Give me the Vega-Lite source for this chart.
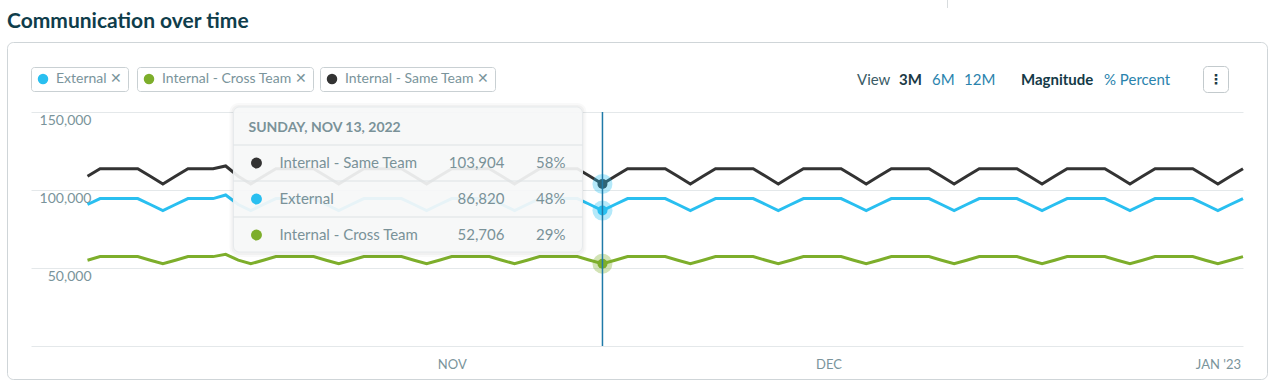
{
"$schema":"https://vega.github.io/schema/vega-lite/v6.json",
"width":1212,"height":234,
"autosize":{"type":"none"},
"padding":{"left":31,"top":112,"right":30,"bottom":39},
"background":"white",
"config":{"font":"Lato","view":{"stroke":null}},
"title":{"text":"Communication over time","anchor":"start","frame":"group","font":"Lato","fontSize":21,"fontWeight":700,"color":"#0f3d4b","dx":-24,"dy":32,"offset":0},
"datasets":{
"external":[{"date":"2022-10-03","value":90700},{"date":"2022-10-04","value":94500},{"date":"2022-10-05","value":94500},{"date":"2022-10-06","value":94500},{"date":"2022-10-07","value":94500},{"date":"2022-10-08","value":90700},{"date":"2022-10-09","value":86800},{"date":"2022-10-10","value":90700},{"date":"2022-10-11","value":94500},{"date":"2022-10-12","value":94500},{"date":"2022-10-13","value":94500},{"date":"2022-10-14","value":96800},{"date":"2022-10-15","value":90700},{"date":"2022-10-16","value":86800},{"date":"2022-10-17","value":90700},{"date":"2022-10-18","value":94500},{"date":"2022-10-19","value":94500},{"date":"2022-10-20","value":94500},{"date":"2022-10-21","value":94500},{"date":"2022-10-22","value":90700},{"date":"2022-10-23","value":86800},{"date":"2022-10-24","value":90700},{"date":"2022-10-25","value":94500},{"date":"2022-10-26","value":94500},{"date":"2022-10-27","value":94500},{"date":"2022-10-28","value":94500},{"date":"2022-10-29","value":90700},{"date":"2022-10-30","value":86800},{"date":"2022-10-31","value":90700},{"date":"2022-11-01","value":94500},{"date":"2022-11-02","value":94500},{"date":"2022-11-03","value":94500},{"date":"2022-11-04","value":94500},{"date":"2022-11-05","value":90700},{"date":"2022-11-06","value":86800},{"date":"2022-11-07","value":90700},{"date":"2022-11-08","value":94500},{"date":"2022-11-09","value":94500},{"date":"2022-11-10","value":94500},{"date":"2022-11-11","value":94500},{"date":"2022-11-12","value":90700},{"date":"2022-11-13","value":86820},{"date":"2022-11-14","value":90700},{"date":"2022-11-15","value":94500},{"date":"2022-11-16","value":94500},{"date":"2022-11-17","value":94500},{"date":"2022-11-18","value":94500},{"date":"2022-11-19","value":90700},{"date":"2022-11-20","value":86800},{"date":"2022-11-21","value":90700},{"date":"2022-11-22","value":94500},{"date":"2022-11-23","value":94500},{"date":"2022-11-24","value":94500},{"date":"2022-11-25","value":94500},{"date":"2022-11-26","value":90700},{"date":"2022-11-27","value":86800},{"date":"2022-11-28","value":90700},{"date":"2022-11-29","value":94500},{"date":"2022-11-30","value":94500},{"date":"2022-12-01","value":94500},{"date":"2022-12-02","value":94500},{"date":"2022-12-03","value":90700},{"date":"2022-12-04","value":86800},{"date":"2022-12-05","value":90700},{"date":"2022-12-06","value":94500},{"date":"2022-12-07","value":94500},{"date":"2022-12-08","value":94500},{"date":"2022-12-09","value":94500},{"date":"2022-12-10","value":90700},{"date":"2022-12-11","value":86800},{"date":"2022-12-12","value":90700},{"date":"2022-12-13","value":94500},{"date":"2022-12-14","value":94500},{"date":"2022-12-15","value":94500},{"date":"2022-12-16","value":94500},{"date":"2022-12-17","value":90700},{"date":"2022-12-18","value":86800},{"date":"2022-12-19","value":90700},{"date":"2022-12-20","value":94500},{"date":"2022-12-21","value":94500},{"date":"2022-12-22","value":94500},{"date":"2022-12-23","value":94500},{"date":"2022-12-24","value":90700},{"date":"2022-12-25","value":86800},{"date":"2022-12-26","value":90700},{"date":"2022-12-27","value":94500},{"date":"2022-12-28","value":94500},{"date":"2022-12-29","value":94500},{"date":"2022-12-30","value":94500},{"date":"2022-12-31","value":90700},{"date":"2023-01-01","value":86800},{"date":"2023-01-02","value":90700},{"date":"2023-01-03","value":94500}],
"cross":[{"date":"2022-10-03","value":55000},{"date":"2022-10-04","value":57300},{"date":"2022-10-05","value":57300},{"date":"2022-10-06","value":57300},{"date":"2022-10-07","value":57300},{"date":"2022-10-08","value":55000},{"date":"2022-10-09","value":52700},{"date":"2022-10-10","value":55000},{"date":"2022-10-11","value":57300},{"date":"2022-10-12","value":57300},{"date":"2022-10-13","value":57300},{"date":"2022-10-14","value":58800},{"date":"2022-10-15","value":55000},{"date":"2022-10-16","value":52700},{"date":"2022-10-17","value":55000},{"date":"2022-10-18","value":57300},{"date":"2022-10-19","value":57300},{"date":"2022-10-20","value":57300},{"date":"2022-10-21","value":57300},{"date":"2022-10-22","value":55000},{"date":"2022-10-23","value":52700},{"date":"2022-10-24","value":55000},{"date":"2022-10-25","value":57300},{"date":"2022-10-26","value":57300},{"date":"2022-10-27","value":57300},{"date":"2022-10-28","value":57300},{"date":"2022-10-29","value":55000},{"date":"2022-10-30","value":52700},{"date":"2022-10-31","value":55000},{"date":"2022-11-01","value":57300},{"date":"2022-11-02","value":57300},{"date":"2022-11-03","value":57300},{"date":"2022-11-04","value":57300},{"date":"2022-11-05","value":55000},{"date":"2022-11-06","value":52700},{"date":"2022-11-07","value":55000},{"date":"2022-11-08","value":57300},{"date":"2022-11-09","value":57300},{"date":"2022-11-10","value":57300},{"date":"2022-11-11","value":57300},{"date":"2022-11-12","value":55000},{"date":"2022-11-13","value":52706},{"date":"2022-11-14","value":55000},{"date":"2022-11-15","value":57300},{"date":"2022-11-16","value":57300},{"date":"2022-11-17","value":57300},{"date":"2022-11-18","value":57300},{"date":"2022-11-19","value":55000},{"date":"2022-11-20","value":52700},{"date":"2022-11-21","value":55000},{"date":"2022-11-22","value":57300},{"date":"2022-11-23","value":57300},{"date":"2022-11-24","value":57300},{"date":"2022-11-25","value":57300},{"date":"2022-11-26","value":55000},{"date":"2022-11-27","value":52700},{"date":"2022-11-28","value":55000},{"date":"2022-11-29","value":57300},{"date":"2022-11-30","value":57300},{"date":"2022-12-01","value":57300},{"date":"2022-12-02","value":57300},{"date":"2022-12-03","value":55000},{"date":"2022-12-04","value":52700},{"date":"2022-12-05","value":55000},{"date":"2022-12-06","value":57300},{"date":"2022-12-07","value":57300},{"date":"2022-12-08","value":57300},{"date":"2022-12-09","value":57300},{"date":"2022-12-10","value":55000},{"date":"2022-12-11","value":52700},{"date":"2022-12-12","value":55000},{"date":"2022-12-13","value":57300},{"date":"2022-12-14","value":57300},{"date":"2022-12-15","value":57300},{"date":"2022-12-16","value":57300},{"date":"2022-12-17","value":55000},{"date":"2022-12-18","value":52700},{"date":"2022-12-19","value":55000},{"date":"2022-12-20","value":57300},{"date":"2022-12-21","value":57300},{"date":"2022-12-22","value":57300},{"date":"2022-12-23","value":57300},{"date":"2022-12-24","value":55000},{"date":"2022-12-25","value":52700},{"date":"2022-12-26","value":55000},{"date":"2022-12-27","value":57300},{"date":"2022-12-28","value":57300},{"date":"2022-12-29","value":57300},{"date":"2022-12-30","value":57300},{"date":"2022-12-31","value":55000},{"date":"2023-01-01","value":52700},{"date":"2023-01-02","value":55000},{"date":"2023-01-03","value":57300}],
"same":[{"date":"2022-10-03","value":108800},{"date":"2022-10-04","value":113600},{"date":"2022-10-05","value":113600},{"date":"2022-10-06","value":113600},{"date":"2022-10-07","value":113600},{"date":"2022-10-08","value":108800},{"date":"2022-10-09","value":103900},{"date":"2022-10-10","value":108800},{"date":"2022-10-11","value":113600},{"date":"2022-10-12","value":113600},{"date":"2022-10-13","value":113600},{"date":"2022-10-14","value":115400},{"date":"2022-10-15","value":108800},{"date":"2022-10-16","value":103900},{"date":"2022-10-17","value":108800},{"date":"2022-10-18","value":113600},{"date":"2022-10-19","value":113600},{"date":"2022-10-20","value":113600},{"date":"2022-10-21","value":113600},{"date":"2022-10-22","value":108800},{"date":"2022-10-23","value":103900},{"date":"2022-10-24","value":108800},{"date":"2022-10-25","value":113600},{"date":"2022-10-26","value":113600},{"date":"2022-10-27","value":113600},{"date":"2022-10-28","value":113600},{"date":"2022-10-29","value":108800},{"date":"2022-10-30","value":103900},{"date":"2022-10-31","value":108800},{"date":"2022-11-01","value":113600},{"date":"2022-11-02","value":113600},{"date":"2022-11-03","value":113600},{"date":"2022-11-04","value":113600},{"date":"2022-11-05","value":108800},{"date":"2022-11-06","value":103900},{"date":"2022-11-07","value":108800},{"date":"2022-11-08","value":113600},{"date":"2022-11-09","value":113600},{"date":"2022-11-10","value":113600},{"date":"2022-11-11","value":113600},{"date":"2022-11-12","value":108800},{"date":"2022-11-13","value":103904},{"date":"2022-11-14","value":108800},{"date":"2022-11-15","value":113600},{"date":"2022-11-16","value":113600},{"date":"2022-11-17","value":113600},{"date":"2022-11-18","value":113600},{"date":"2022-11-19","value":108800},{"date":"2022-11-20","value":103900},{"date":"2022-11-21","value":108800},{"date":"2022-11-22","value":113600},{"date":"2022-11-23","value":113600},{"date":"2022-11-24","value":113600},{"date":"2022-11-25","value":113600},{"date":"2022-11-26","value":108800},{"date":"2022-11-27","value":103900},{"date":"2022-11-28","value":108800},{"date":"2022-11-29","value":113600},{"date":"2022-11-30","value":113600},{"date":"2022-12-01","value":113600},{"date":"2022-12-02","value":113600},{"date":"2022-12-03","value":108800},{"date":"2022-12-04","value":103900},{"date":"2022-12-05","value":108800},{"date":"2022-12-06","value":113600},{"date":"2022-12-07","value":113600},{"date":"2022-12-08","value":113600},{"date":"2022-12-09","value":113600},{"date":"2022-12-10","value":108800},{"date":"2022-12-11","value":103900},{"date":"2022-12-12","value":108800},{"date":"2022-12-13","value":113600},{"date":"2022-12-14","value":113600},{"date":"2022-12-15","value":113600},{"date":"2022-12-16","value":113600},{"date":"2022-12-17","value":108800},{"date":"2022-12-18","value":103900},{"date":"2022-12-19","value":108800},{"date":"2022-12-20","value":113600},{"date":"2022-12-21","value":113600},{"date":"2022-12-22","value":113600},{"date":"2022-12-23","value":113600},{"date":"2022-12-24","value":108800},{"date":"2022-12-25","value":103900},{"date":"2022-12-26","value":108800},{"date":"2022-12-27","value":113600},{"date":"2022-12-28","value":113600},{"date":"2022-12-29","value":113600},{"date":"2022-12-30","value":113600},{"date":"2022-12-31","value":108800},{"date":"2023-01-01","value":103900},{"date":"2023-01-02","value":108800},{"date":"2023-01-03","value":113600}],
"tooltip":[{"series":"Internal - Same Team","value":103904,"pct":0.58},{"series":"External","value":86820,"pct":0.48},{"series":"Internal - Cross Team","value":52706,"pct":0.29}]
},
"layer":[
{
"data":{"values":[{}]},
"layer":[
{"mark":{"type":"rect","fill":"white","fillOpacity":0,"stroke":"#cfd5d8","strokeWidth":1,"cornerRadius":6,"xOffset":-23.5,"x2Offset":24.5,"yOffset":-69.5,"y2Offset":33.5},
 "encoding":{"x":{"datum":{"year":2022,"month":"sep","date":28,"hours":12,"utc":true},"type":"temporal"},"x2":{"datum":{"year":2023,"month":"jan","date":3,"utc":true}},"y":{"datum":150000,"type":"quantitative"},"y2":{"datum":0}}},
{"mark":{"type":"rule","color":"#d8dcde","strokeWidth":1,"xOffset":-295.5,"yOffset":-112,"y2Offset":-104},
 "encoding":{"x":{"datum":{"year":2023,"month":"jan","date":3,"utc":true},"type":"temporal"},"y":{"datum":150000,"type":"quantitative"},"y2":{"datum":150000}}},
{"layer":[
 {"data":{"name":"external"},"mark":{"type":"line","color":"#29bff0","strokeWidth":3},
  "encoding":{
   "x":{"field":"date","type":"temporal","scale":{"type":"utc","domain":[{"year":2022,"month":"sep","date":28,"hours":12,"utc":true},{"year":2023,"month":"jan","date":3,"utc":true}],"range":[0,1212],"padding":0,"nice":false},
     "axis":{"values":[{"year":2022,"month":"nov","date":1,"utc":true},{"year":2022,"month":"dec","date":1,"utc":true},{"year":2023,"month":"jan","date":1,"utc":true}],"labelExpr":"utcmonth(datum.value) === 0 ? \"JAN '\" + utcFormat(datum.value, '%y') : upper(utcFormat(datum.value, '%b'))","grid":false,"domain":false,"ticks":false,"labelPadding":12,"labelFont":"Lato","labelFontSize":13,"labelColor":"#7a949b","labelFlush":false,"labelOverlap":false,"title":null}},
   "y":{"field":"value","type":"quantitative","scale":{"domain":[0,150000],"range":[234,0],"padding":0,"nice":false,"zero":false},
     "axis":{"values":[0,50000,100000,150000],"labelExpr":"datum.value === 0 ? '' : datum.label","grid":true,"gridColor":"#e4e8ea","gridWidth":1,"domain":false,"ticks":false,"tickSize":0,"labelPadding":-60,"labelAlign":"right","labelBaseline":"top","labelOffset":1,"labelFont":"Lato","labelFontSize":14,"labelColor":"#7a949b","labelOverlap":false,"title":null}}}},
 {"data":{"name":"tooltip"},"transform":[{"filter":{"field":"series","equal":"External"}}],
  "mark":{"type":"point","filled":true,"opacity":1,"size":100,"strokeWidth":0},
  "encoding":{"x":{"datum":{"year":2022,"month":"nov","date":13,"utc":true},"type":"temporal"},"y":{"field":"value","type":"quantitative"},
   "color":{"datum":"External","type":"nominal","scale":{"range":["#29bff0"]},
    "legend":{"orient":"none","legendX":0,"legendY":-45,"direction":"horizontal","title":null,"strokeColor":"#c9d0d3","fillColor":"white","cornerRadius":3,"padding":5,"symbolType":"circle","symbolSize":110,"symbolStrokeWidth":0,"symbolFillColor":"#29bff0","symbolOpacity":1,"labelFont":"Lato","labelFontSize":14,"labelColor":"#7a949b","labelOffset":6,"labelExpr":"datum.label + '\u00a0\u2715'"}}}},
 {"data":{"name":"tooltip"},"transform":[{"filter":{"field":"series","equal":"External"}}],
  "mark":{"type":"point","filled":true,"opacity":0.35,"size":400,"color":"#29bff0","strokeWidth":0},
  "encoding":{"x":{"datum":{"year":2022,"month":"nov","date":13,"utc":true},"type":"temporal"},"y":{"field":"value","type":"quantitative"}}}
]},
{"layer":[
 {"data":{"name":"cross"},"mark":{"type":"line","color":"#7dae2b","strokeWidth":3},
  "encoding":{"x":{"field":"date","type":"temporal"},"y":{"field":"value","type":"quantitative"}}},
 {"data":{"name":"tooltip"},"transform":[{"filter":{"field":"series","equal":"Internal - Cross Team"}}],
  "mark":{"type":"point","filled":true,"opacity":1,"size":100,"strokeWidth":0},
  "encoding":{"x":{"datum":{"year":2022,"month":"nov","date":13,"utc":true},"type":"temporal"},"y":{"field":"value","type":"quantitative"},
   "color":{"datum":"Internal - Cross Team","type":"nominal","scale":{"range":["#7dae2b"]},
    "legend":{"orient":"none","legendX":106,"legendY":-45,"direction":"horizontal","title":null,"strokeColor":"#c9d0d3","fillColor":"white","cornerRadius":3,"padding":5,"symbolType":"circle","symbolSize":110,"symbolStrokeWidth":0,"symbolFillColor":"#7dae2b","symbolOpacity":1,"labelFont":"Lato","labelFontSize":14,"labelColor":"#7a949b","labelOffset":6,"labelExpr":"datum.label + '\u00a0\u2715'"}}}},
 {"data":{"name":"tooltip"},"transform":[{"filter":{"field":"series","equal":"Internal - Cross Team"}}],
  "mark":{"type":"point","filled":true,"opacity":0.35,"size":400,"color":"#7dae2b","strokeWidth":0},
  "encoding":{"x":{"datum":{"year":2022,"month":"nov","date":13,"utc":true},"type":"temporal"},"y":{"field":"value","type":"quantitative"}}}
]},
{"layer":[
 {"data":{"name":"same"},"mark":{"type":"line","color":"#333333","strokeWidth":3},
  "encoding":{"x":{"field":"date","type":"temporal"},"y":{"field":"value","type":"quantitative"}}},
 {"data":{"name":"tooltip"},"transform":[{"filter":{"field":"series","equal":"Internal - Same Team"}}],
  "mark":{"type":"point","filled":true,"opacity":1,"size":100,"strokeWidth":0},
  "encoding":{"x":{"datum":{"year":2022,"month":"nov","date":13,"utc":true},"type":"temporal"},"y":{"field":"value","type":"quantitative"},
   "color":{"datum":"Internal - Same Team","type":"nominal","scale":{"range":["#333333"]},
    "legend":{"orient":"none","legendX":289,"legendY":-45,"direction":"horizontal","title":null,"strokeColor":"#c9d0d3","fillColor":"white","cornerRadius":3,"padding":5,"symbolType":"circle","symbolSize":110,"symbolStrokeWidth":0,"symbolFillColor":"#333333","symbolOpacity":1,"labelFont":"Lato","labelFontSize":14,"labelColor":"#7a949b","labelOffset":6,"labelExpr":"datum.label + '\u00a0\u2715'"}}}},
 {"data":{"name":"tooltip"},"transform":[{"filter":{"field":"series","equal":"Internal - Same Team"}}],
  "mark":{"type":"point","filled":true,"opacity":0.35,"size":400,"color":"#29bff0","strokeWidth":0},
  "encoding":{"x":{"datum":{"year":2022,"month":"nov","date":13,"utc":true},"type":"temporal"},"y":{"field":"value","type":"quantitative"}}}
]},
{"mark":{"type":"rule","color":"#1f7aa8","strokeWidth":1.5},
 "encoding":{"x":{"datum":{"year":2022,"month":"nov","date":13,"utc":true},"type":"temporal"},"y":{"datum":150000,"type":"quantitative"},"y2":{"datum":0}}},
{"mark":{"type":"rect","fill":"#000000","fillOpacity":0.025,"cornerRadius":9,"xOffset":-373,"x2Offset":-16,"yOffset":-9,"y2Offset":145},
 "encoding":{"x":{"datum":{"year":2022,"month":"nov","date":13,"utc":true},"type":"temporal"},"x2":{"datum":{"year":2022,"month":"nov","date":13,"utc":true}},"y":{"datum":150000,"type":"quantitative"},"y2":{"datum":150000}}},
{"mark":{"type":"rect","fill":"#000000","fillOpacity":0.03,"cornerRadius":7,"xOffset":-371,"x2Offset":-18,"yOffset":-7,"y2Offset":143},
 "encoding":{"x":{"datum":{"year":2022,"month":"nov","date":13,"utc":true},"type":"temporal"},"x2":{"datum":{"year":2022,"month":"nov","date":13,"utc":true}},"y":{"datum":150000,"type":"quantitative"},"y2":{"datum":150000}}},
{"mark":{"type":"rect","fill":"#f7f9f9","fillOpacity":0.92,"stroke":"#e6eaec","strokeWidth":1,"cornerRadius":6,"xOffset":-369,"x2Offset":-20,"yOffset":-5,"y2Offset":140},
 "encoding":{"x":{"datum":{"year":2022,"month":"nov","date":13,"utc":true},"type":"temporal"},"x2":{"datum":{"year":2022,"month":"nov","date":13,"utc":true}},"y":{"datum":150000,"type":"quantitative"},"y2":{"datum":150000}}},
{"mark":{"type":"text","text":"SUNDAY, NOV 13, 2022","align":"left","baseline":"middle","dx":-354,"dy":16,"font":"Lato","fontSize":14,"fontWeight":"bold","color":"#7a9298"},
 "encoding":{"x":{"datum":{"year":2022,"month":"nov","date":13,"utc":true},"type":"temporal"},"y":{"datum":150000,"type":"quantitative"}}},
{"mark":{"type":"text","text":"View","align":"left","baseline":"middle","dx":-386,"dy":-32,"font":"Lato","fontSize":15,"color":"#3b5c66"},
 "encoding":{"x":{"datum":{"year":2023,"month":"jan","date":3,"utc":true},"type":"temporal"},"y":{"datum":150000,"type":"quantitative"}}},
{"mark":{"type":"text","text":"3M","align":"left","baseline":"middle","dx":-344,"dy":-32,"font":"Lato","fontSize":15,"fontWeight":"bold","color":"#1b3a45"},
 "encoding":{"x":{"datum":{"year":2023,"month":"jan","date":3,"utc":true},"type":"temporal"},"y":{"datum":150000,"type":"quantitative"}}},
{"mark":{"type":"text","text":"6M","align":"left","baseline":"middle","dx":-311,"dy":-32,"font":"Lato","fontSize":15,"color":"#2a83ad"},
 "encoding":{"x":{"datum":{"year":2023,"month":"jan","date":3,"utc":true},"type":"temporal"},"y":{"datum":150000,"type":"quantitative"}}},
{"mark":{"type":"text","text":"12M","align":"left","baseline":"middle","dx":-279,"dy":-32,"font":"Lato","fontSize":15,"color":"#2a83ad"},
 "encoding":{"x":{"datum":{"year":2023,"month":"jan","date":3,"utc":true},"type":"temporal"},"y":{"datum":150000,"type":"quantitative"}}},
{"mark":{"type":"text","text":"Magnitude","align":"left","baseline":"middle","dx":-222,"dy":-32,"font":"Lato","fontSize":15,"fontWeight":"bold","color":"#143a47"},
 "encoding":{"x":{"datum":{"year":2023,"month":"jan","date":3,"utc":true},"type":"temporal"},"y":{"datum":150000,"type":"quantitative"}}},
{"mark":{"type":"text","text":"% Percent","align":"left","baseline":"middle","dx":-139,"dy":-32,"font":"Lato","fontSize":15,"color":"#2a83ad"},
 "encoding":{"x":{"datum":{"year":2023,"month":"jan","date":3,"utc":true},"type":"temporal"},"y":{"datum":150000,"type":"quantitative"}}},
{"mark":{"type":"rect","fill":"white","stroke":"#c3cacd","strokeWidth":1,"cornerRadius":4,"xOffset":-39.5,"x2Offset":-14.5,"yOffset":-45.5,"y2Offset":-19.5},
 "encoding":{"x":{"datum":{"year":2023,"month":"jan","date":3,"utc":true},"type":"temporal"},"x2":{"datum":{"year":2023,"month":"jan","date":3,"utc":true}},"y":{"datum":150000,"type":"quantitative"},"y2":{"datum":150000}}},
{"mark":{"type":"text","text":"\u22ee","align":"center","baseline":"middle","dx":-27,"dy":-32,"font":"DejaVu Sans","fontSize":14,"fontWeight":"bold","color":"#1b3a45"},
 "encoding":{"x":{"datum":{"year":2023,"month":"jan","date":3,"utc":true},"type":"temporal"},"y":{"datum":150000,"type":"quantitative"}}}
],
"resolve":{"scale":{"color":"independent"},"legend":{"color":"independent"}}
},
{
"data":{"name":"tooltip"},
"encoding":{
 "x":{"datum":{"year":2022,"month":"nov","date":13,"utc":true},"type":"temporal"},
 "y":{"field":"series","type":"nominal","sort":{"field":"value","op":"max","order":"descending"},"scale":{"type":"point","range":[51,123],"padding":0},"axis":null}
},
"layer":[
 {"mark":{"type":"rule","color":"#dde2e4","strokeWidth":1,"xOffset":-369,"x2Offset":-20,"yOffset":-18},
  "encoding":{"x2":{"datum":{"year":2022,"month":"nov","date":13,"utc":true}}}},
 {"mark":{"type":"point","filled":true,"opacity":1,"size":120,"strokeWidth":0,"xOffset":-346},
  "encoding":{"color":{"field":"series","type":"nominal","scale":{"domain":["External","Internal - Cross Team","Internal - Same Team"],"range":["#29bff0","#7dae2b","#333333"]},"legend":null}}},
 {"mark":{"type":"text","align":"left","baseline":"middle","dx":-323,"font":"Lato","fontSize":15,"color":"#7a9298"},
  "encoding":{"text":{"field":"series","type":"nominal"}}},
 {"mark":{"type":"text","align":"right","baseline":"middle","dx":-98,"font":"Lato","fontSize":15,"color":"#7a9298"},
  "encoding":{"text":{"field":"value","type":"quantitative","format":",d"}}},
 {"mark":{"type":"text","align":"right","baseline":"middle","dx":-37,"font":"Lato","fontSize":15,"color":"#7a9298"},
  "encoding":{"text":{"field":"pct","type":"quantitative","format":".0%"}}}
]
}
],
"resolve":{"scale":{"y":"independent","color":"independent"},"legend":{"color":"independent"}}
}
